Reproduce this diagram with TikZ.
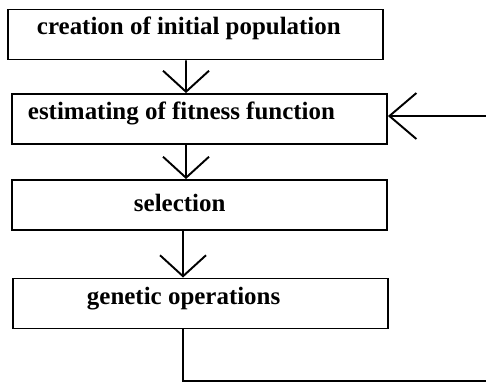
\documentclass[tikz,border=0pt]{standalone}
\usepackage{fontspec}
\setmainfont{Liberation Serif}
\usetikzlibrary{arrows.meta}
\begin{document}
\begin{tikzpicture}[
    x=0.02cm, y=-0.02cm,
    stage/.style={draw, line width=1.1pt, minimum width=7.5cm, minimum height=1cm, inner sep=0pt},
    stagetext/.style={anchor=west, inner sep=0pt, font=\bfseries\fontsize{14.2}{16}\selectfont},
    line width=1.1pt,
    >={Straight Barb[length=0.42cm, width=0.92cm]}
]
\useasboundingbox (0,0) rectangle (486,383);

\node[stage] (init) at (195.5,34.5) {};
\node[stage] (fit) at (199.5,119) {};
\node[stage] (sel) at (199.5,205) {};
\node[stage] (gen) at (200.5,303.5) {};

\node[stagetext] (initlbl) at (36,28) {creation of initial population};
\node[stagetext] (fitlbl) at (27,113) {estimating of fitness function};
\node[stagetext] (sellbl) at (133,203) {selection};
\node[stagetext] (genlbl) at (86,299) {genetic operations};

\coordinate (back) at (489,381);

\draw[->] ([xshift=-0.19cm]init.south) -- ([xshift=-0.27cm]fit.north);
\draw[->] ([xshift=-0.27cm]fit.south) -- ([xshift=-0.27cm]sel.north);
\draw[->] ([xshift=-0.33cm]sel.south) -- ([xshift=-0.35cm]gen.north);
\draw[->, >={Straight Barb[length=0.54cm, width=0.92cm]}]
    ([xshift=-0.35cm]gen.south) |- (back) |- ([yshift=0.06cm]fit.east);
\end{tikzpicture}
\end{document}
